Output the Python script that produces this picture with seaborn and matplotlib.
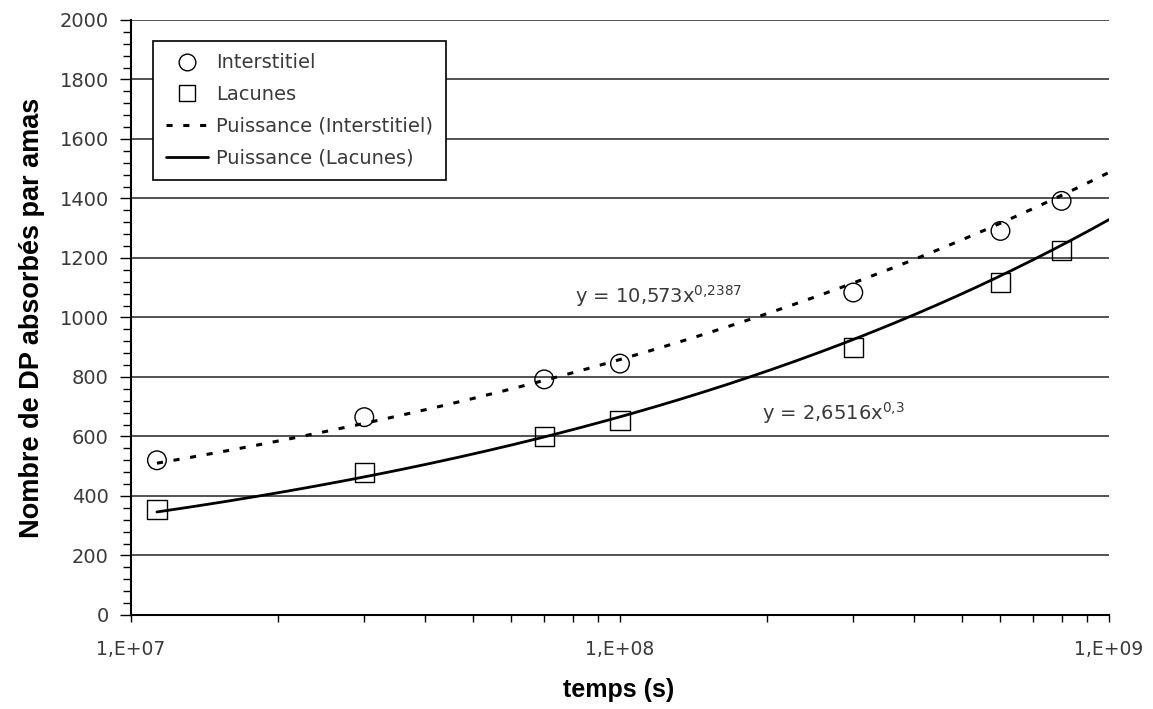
import numpy as np
import pandas as pd
import seaborn as sns
import matplotlib.pyplot as plt
from matplotlib.ticker import MultipleLocator, LogLocator, NullFormatter
from matplotlib.lines import Line2D

# === DONNEES ===
temps = [1.13e7, 3e7, 7e7, 1e8, 3e8, 6e8, 8e8]
interstitiel = [520, 665, 792, 845, 1084, 1291, 1392]
lacunes = [354, 479, 600, 654, 898, 1119, 1226]

# courbes de tendance "Puissance" affichées sur le graphique : y = a * x^b
coef_inter = (10.573, 0.2387)
coef_lac = (2.6516, 0.3)

x_ticks = [1e7, 1e8, 1e9]
x_tick_labels = ["1,E+07", "1,E+08", "1,E+09"]
y_ticks = list(range(0, 2001, 200))

eq_inter = "y = 10,573x$^{0{,}2387}$"
eq_lac = "y = 2,6516x$^{0{,}3}$"

df = pd.DataFrame({"temps": temps, "Interstitiel": interstitiel, "Lacunes": lacunes})

# tendance tracée du premier point jusqu'à la fin de l'axe (prévision Excel)
xx = np.geomspace(temps[0], x_ticks[-1], 200)
trend = pd.DataFrame({
    "temps": xx,
    "inter": coef_inter[0] * xx ** coef_inter[1],
    "lac": coef_lac[0] * xx ** coef_lac[1],
})

# === STYLE ===
sns.set_theme(style="white")
plt.rcParams["font.family"] = ["DejaVu Sans"]
plt.rcParams["mathtext.default"] = "regular"
txt_col = "#3a3a3a"

fig = plt.figure(figsize=(11.53, 7.09), dpi=100)
ax = fig.add_subplot(111)
fig.subplots_adjust(left=0.1136, right=0.9618, top=0.9718, bottom=0.1326)

ax.set_xscale("log")
ax.set_xlim(1e7, 1e9)
ax.set_ylim(0, 2000)

# grille horizontale
for v in y_ticks[1:]:
    ax.axhline(v, color="#222222", linewidth=1.1, zorder=1)

sns.lineplot(data=trend, x="temps", y="inter", ax=ax, color="black",
             linewidth=2.2, linestyle=(0, (2, 3.5)), zorder=3)
sns.lineplot(data=trend, x="temps", y="lac", ax=ax, color="black",
             linewidth=2.0, zorder=3)

sns.scatterplot(data=df, x="temps", y="Interstitiel", ax=ax, marker="o", s=180,
                facecolor="none", edgecolor="black", linewidth=1.0, zorder=4)
sns.scatterplot(data=df, x="temps", y="Lacunes", ax=ax, marker="s", s=190,
                facecolor="none", edgecolor="black", linewidth=1.0, zorder=4)

# axes
for s in ["top", "right"]:
    ax.spines[s].set_visible(False)
for s in ["left", "bottom"]:
    ax.spines[s].set_color("black")
    ax.spines[s].set_linewidth(1.5)

ax.set_xticks(x_ticks)
ax.set_xticklabels(x_tick_labels)
ax.xaxis.set_minor_locator(LogLocator(base=10, subs=np.arange(2, 10)))
ax.xaxis.set_minor_formatter(NullFormatter())
ax.set_yticks(y_ticks)
ax.yaxis.set_minor_locator(MultipleLocator(40))

ax.tick_params(axis="x", which="both", direction="out", length=5, width=1,
               color="black", pad=13, labelsize=13.5, labelcolor=txt_col, bottom=True)
ax.tick_params(axis="y", which="major", direction="out", length=8, width=1,
               color="black", pad=8, labelsize=14, labelcolor=txt_col, left=True)
ax.tick_params(axis="y", which="minor", direction="out", length=6, width=1,
               color="black", left=True)

ax.set_xlabel("temps (s)", fontsize=18, fontweight="bold", family="Liberation Sans",
              va="center", color="black")
ax.xaxis.set_label_coords(0.499, -0.126)
ax.set_ylabel("Nombre de DP absorbés par amas", fontsize=19.5, fontweight="bold",
              family="Liberation Sans", va="center", color="black")
ax.yaxis.set_label_coords(-0.101, 0.5)

# equations
ax.text(8.1e7, 1072, eq_inter, fontsize=14, color=txt_col, ha="left", va="center", zorder=5)
ax.text(1.95e8, 680, eq_lac, fontsize=14, color=txt_col, ha="left", va="center", zorder=5)

# legende
handles = [
    Line2D([], [], marker="o", linestyle="none", markersize=12, markerfacecolor="none",
           markeredgecolor="black", markeredgewidth=1.0),
    Line2D([], [], marker="s", linestyle="none", markersize=12, markerfacecolor="none",
           markeredgecolor="black", markeredgewidth=1.0),
    Line2D([], [], color="black", linewidth=2.2, linestyle=(0, (2, 3.5))),
    Line2D([], [], color="black", linewidth=2.0),
]
labels = ["Interstitiel", "Lacunes", "Puissance (Interstitiel)", "Puissance (Lacunes)"]
leg = ax.legend(handles, labels, loc="upper left", bbox_to_anchor=(0.0225, 0.965),
                borderaxespad=0, frameon=True, fancybox=False, fontsize=14,
                handlelength=2.2, handletextpad=0.4, labelspacing=0.65,
                borderpad=0.65, labelcolor=txt_col)
leg.get_frame().set_edgecolor("black")
leg.get_frame().set_linewidth(1.2)
leg.get_frame().set_facecolor("white")
leg.get_frame().set_alpha(1)
leg.set_zorder(6)

plt.savefig("out.png", dpi=100)
